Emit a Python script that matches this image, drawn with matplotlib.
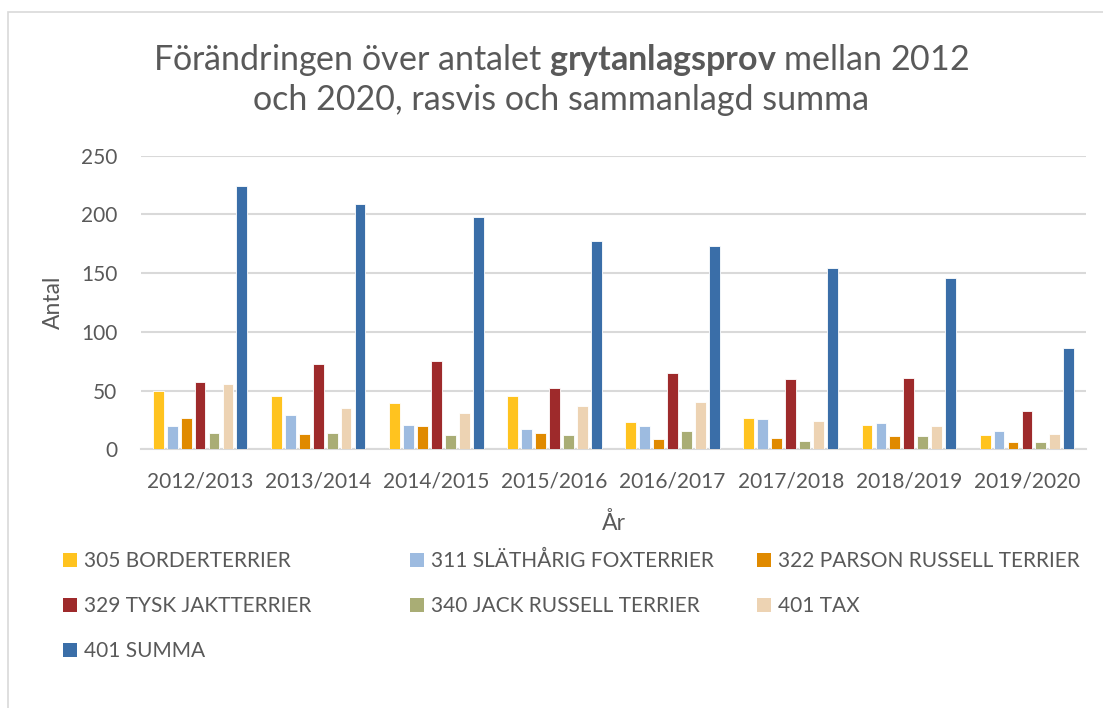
import numpy as np
import matplotlib
matplotlib.use("Agg")
import matplotlib.pyplot as plt
from matplotlib.patches import Patch, Rectangle

plt.rcParams["font.family"] = ["Lato", "DejaVu Sans"]
plt.rcParams["mathtext.fontset"] = "custom"
plt.rcParams["mathtext.rm"] = "Lato"
plt.rcParams["mathtext.bf"] = "Lato:bold"

# Data
years = ["2012/2013", "2013/2014", "2014/2015", "2015/2016",
         "2016/2017", "2017/2018", "2018/2019", "2019/2020"]
border = [50, 45, 39, 45, 23, 27, 21, 12]
foxterrier = [20, 29, 21, 17, 20, 26, 22, 16]
parson = [27, 13, 20, 14, 9, 10, 11, 6]
jakt = [57, 73, 75, 52, 65, 60, 61, 33]
jack = [14, 14, 12, 12, 16, 7, 11, 6]
tax = [56, 35, 31, 37, 40, 24, 20, 13]
summa = [224, 209, 198, 177, 173, 154, 146, 86]

series = [border, foxterrier, parson, jakt, jack, tax, summa]
labels = ["305 BORDERTERRIER", "311 SLÄTHÅRIG FOXTERRIER", "322 PARSON RUSSELL TERRIER",
          "329 TYSK JAKTTERRIER", "340 JACK RUSSELL TERRIER", "401 TAX", "401 SUMMA"]
colors = ["#FFC31F", "#9DBBE0", "#E08A00", "#9E2A2B", "#A9AD75", "#EDD3B3", "#3A6EA8"]

txt = "#595959"
grid = "#D9D9D9"

fig = plt.figure(figsize=(11.03, 7.08), dpi=100)
ax = fig.add_axes([141 / 1103, 1 - 449.3 / 708, 945 / 1103, (449.3 - 155.7) / 708])

x = np.arange(len(years))
pitch = 0.118
for i, (vals, c) in enumerate(zip(series, colors)):
    ax.bar(x + (i - 3) * pitch, vals, width=0.092, color=c,
           edgecolor="white", linewidth=0.6, zorder=3)

ax.set_xlim(-0.5, len(years) - 0.5)
ax.set_ylim(0, 250)
ax.set_yticks(range(0, 251, 50))
ax.set_xticks(x)
ax.set_xticklabels(years)
ax.yaxis.grid(True, color=grid, linewidth=1.5, zorder=0)
ax.set_axisbelow(True)
for s in ["top", "right", "left"]:
    ax.spines[s].set_visible(False)
ax.spines["bottom"].set_color(grid)
ax.spines["bottom"].set_linewidth(1.5)
ax.tick_params(axis="both", length=0, labelsize=15, colors=txt)
ax.tick_params(axis="y", pad=17)
ax.tick_params(axis="x", pad=16)
ax.set_xlabel("År", fontsize=16.5, color=txt, labelpad=15)
ax.set_ylabel("Antal", fontsize=16.5, color=txt, labelpad=12)

fig.text(561 / 1103, 1 - 79 / 708,
         "Förändringen över antalet $\\bf{grytanlagsprov}$ mellan 2012\noch 2020, rasvis och sammanlagd summa",
         ha="center", va="center", fontsize=24.5, color=txt, linespacing=1.25)

# yttre ram
fig.add_artist(Rectangle((8 / 1103, -0.1), 1.2, 1 - 12 / 708 + 0.1, transform=fig.transFigure,
                         fill=False, edgecolor=grid, linewidth=1.2))

# legend i tre kolumner
handles = [Patch(facecolor=c, edgecolor="none") for c in colors]
col_x = [63, 410, 757]
for k in range(3):
    idx = list(range(k, len(labels), 3))
    leg = fig.legend([handles[i] for i in idx], [labels[i] for i in idx],
                     loc="upper left", bbox_to_anchor=(col_x[k] / 1103, 1 - 551 / 708),
                     frameon=False, fontsize=15, handlelength=0.65, handleheight=0.65,
                     handletextpad=0.35, labelspacing=1.2, borderpad=0, borderaxespad=0)
    for t in leg.get_texts():
        t.set_color(txt)

fig.savefig("out.png", dpi=100)
